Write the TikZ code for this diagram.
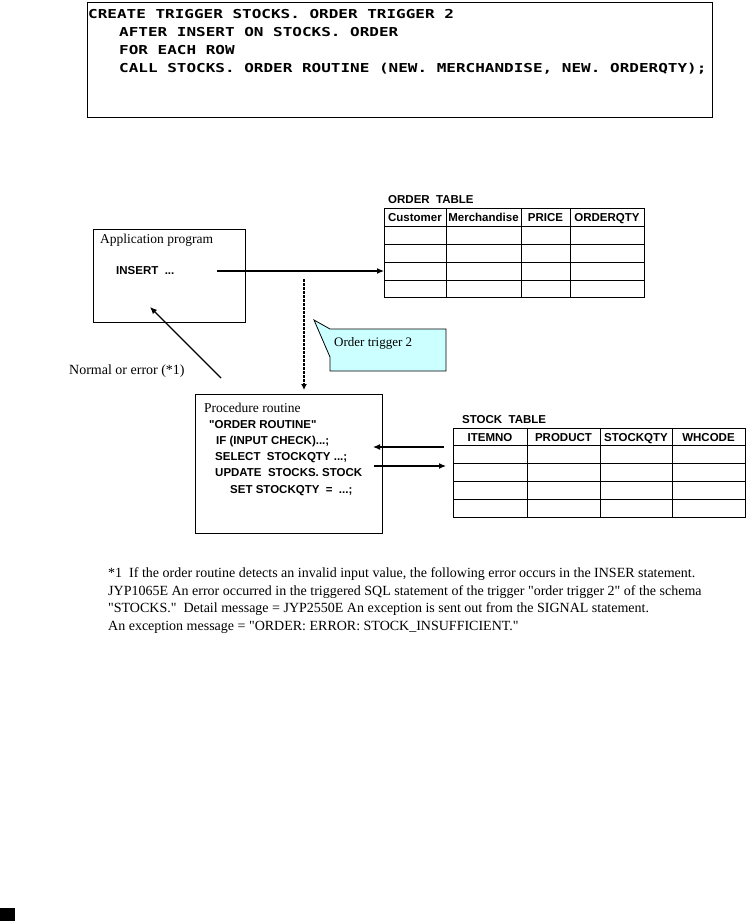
\documentclass[tikz,border=0pt]{standalone}
\usepackage{fontspec}
\setmainfont{Liberation Serif}
\newfontfamily\tablefont{Liberation Sans}
\newfontfamily\codefont[FakeStretch=1.3]{DejaVu Sans Mono}
\usetikzlibrary{arrows.meta, positioning}
\definecolor{callout color}{RGB}{204,255,255}
\newcommand\qq{\textquotedbl}
\tikzset{box/.style={draw, line width=1.2pt, inner sep=0pt, anchor=north west}}
\tikzset{grid/.style={line width=1pt}}
\tikzset{serif text/.style={font=\fontsize{13.5}{15}\selectfont, inner sep=0pt, anchor=base west}}
\tikzset{note text/.style={serif text, font=\fontsize{14}{16}\selectfont}}
\tikzset{sans text/.style={font=\tablefont\bfseries\fontsize{11.5}{13}\selectfont, inner sep=0pt, anchor=base west}}
\tikzset{head text/.style={sans text, anchor=base}}
\tikzset{code text/.style={font=\codefont\bfseries\fontsize{12.3}{16}\selectfont, inner sep=0pt, anchor=base west}}
\tikzset{flow/.style={line width=1.2pt, -{Latex[length=7pt,width=6pt]}}}
\tikzset{trigger flow/.style={line width=2.6pt, dash pattern=on 2.6pt off 1.4pt, -{Latex[length=6pt,width=6pt]}}}

\begin{document}
\begin{tikzpicture}[x=1pt, y=-1pt]
\useasboundingbox (0,0) rectangle (746,921);
\node[box, minimum width=625pt, minimum height=115pt] (trigger) at (87,2) {};
\node[code text] (create) at (88,18.5) {CREATE TRIGGER STOCKS. ORDER TRIGGER 2};
\node[code text] (after) at (119,36.5) {AFTER INSERT ON STOCKS. ORDER};
\node[code text] (each) at (119,54.5) {FOR EACH ROW};
\node[code text] (call) at (119,72.5) {CALL STOCKS. ORDER ROUTINE (NEW. MERCHANDISE, NEW. ORDERQTY);};

\node[sans text] (order title) at (388,203) {ORDER\ \ TABLE};
\node[box, grid, minimum width=260pt, minimum height=89pt] (order) at (384,208) {};
\foreach \x in {446,521,570} \draw[grid] (\x,208) -- (\x,297);
\foreach \y in {226,244,262,280} \draw[grid] (384,\y) -- (644,\y);
\foreach \name/\x in {Customer/415,Merchandise/483.5,PRICE/545.5,ORDERQTY/607}
  \node[head text] (order \name) at (\x,221) {\name};

\node[box, minimum width=152pt, minimum height=93pt] (app) at (93,229) {};
\node[serif text] (app title) at (100,243) {Application program};
\node[sans text] (insert) at (116,274) {INSERT\ \ ...};
\coordinate (insert out) at (217,271);
\draw[flow] (insert out) -- (order.west |- insert out);

\coordinate (trigger top) at (304,279);
\coordinate (trigger end) at (304,390);
\draw[trigger flow] (trigger top) -- (trigger end);

\coordinate (callout tip) at (314,320);
\draw[fill=callout color, line width=0.8pt] (callout tip) -- (330,329) -- (446,329) -- (446,371) -- (330,371) -- (330,357) -- cycle;
\node[serif text, font=\fontsize{13}{15}\selectfont] (callout) at (334,346) {Order trigger 2};

\coordinate (reply start) at (221,378);
\coordinate (reply end) at (150,307);
\draw[flow] (reply start) -- (reply end);
\node[serif text, font=\fontsize{14}{16}\selectfont] (reply) at (69,374) {Normal or error (*1)};

\node[box, minimum width=187pt, minimum height=139pt] (proc) at (195,394) {};
\node[serif text] (proc title) at (204,412) {Procedure routine};
\node[sans text] (routine) at (209,428) {"ORDER ROUTINE"};
\node[sans text] (check) at (216,444) {IF (INPUT CHECK)...;};
\node[sans text] (select) at (215,460) {SELECT\ \ STOCKQTY ...;};
\node[sans text] (update) at (215,476) {UPDATE\ \ STOCKS. STOCK};
\node[sans text] (set) at (230,493) {SET STOCKQTY\ \ =\ \ ...;};

\node[sans text] (stock title) at (462,423) {STOCK\ \ TABLE};
\node[box, grid, minimum width=292pt, minimum height=89pt] (stock) at (453,428) {};
\foreach \x in {527,600,672} \draw[grid] (\x,428) -- (\x,517);
\foreach \y in {445,463,481,499} \draw[grid] (453,\y) -- (745,\y);
\foreach \name/\x in {ITEMNO/490,PRODUCT/563.5,STOCKQTY/636,WHCODE/708.5}
  \node[head text] (stock \name) at (\x,441) {\name};

\coordinate (read start) at (444,447);
\coordinate (read end) at (373,447);
\draw[flow] (read start) -- (read end);
\coordinate (write start) at (374,466);
\coordinate (write end) at (446,466);
\draw[flow] (write start) -- (write end);

\node[note text] (note a) at (108,577) {*1\ \ If the order routine detects an invalid input value, the following error occurs in the INSER statement.};
\node[note text] (note b) at (108,595) {JYP1065E An error occurred in the triggered SQL statement of the trigger \qq order trigger 2\qq{} of the schema};
\node[note text] (note c) at (108,612) {\qq STOCKS.\qq\ \ Detail message = JYP2550E An exception is sent out from the SIGNAL statement.};
\node[note text] (note d) at (108,630) {An exception message = \qq ORDER: ERROR: STOCK\_INSUFFICIENT.\qq};

\fill (0,908) rectangle (15,921);
\end{tikzpicture}
\end{document}
